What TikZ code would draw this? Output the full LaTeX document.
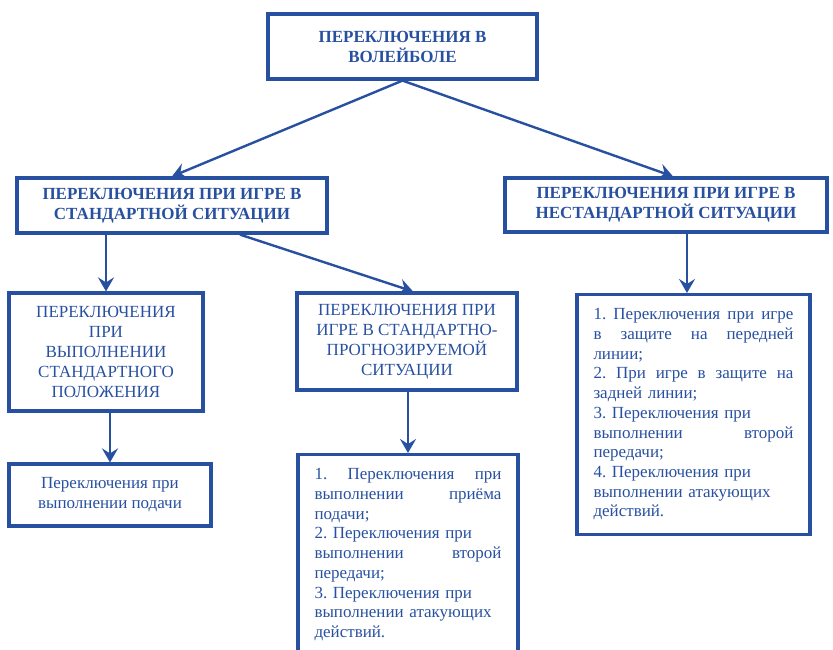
\documentclass[tikz,border=0pt]{standalone}
\usepackage{fontspec}
\setmainfont{Liberation Serif}
\usetikzlibrary{arrows.meta,calc}
\definecolor{vb}{RGB}{40,80,160}
\frenchspacing
\begin{document}
\begin{tikzpicture}[x=1pt,y=-1pt,
  box/.style={draw=vb,line width=3.2pt,text=vb,inner sep=0pt,align=center,font=\fontsize{17}{20}\selectfont},
  hd/.style={box,font=\fontsize{17}{20}\selectfont\bfseries},
  lst/.style={draw=vb,line width=3.2pt,text=vb,align=left,inner xsep=16.5pt,inner ysep=14pt,font=\fontsize{17}{19.7}\selectfont},
  arr/.style={draw=vb,line width=2.4pt,-{Stealth[length=14pt,width=16pt,inset=5pt]}}]
\path[use as bounding box] (0,0) rectangle (833,649);
\clip (0,0) rectangle (833,649);
\node[hd,minimum width=269pt,minimum height=65pt] (top) at (402.5,46.5) {ПЕРЕКЛЮЧЕНИЯ В\\ВОЛЕЙБОЛЕ};
\node[hd,minimum width=310pt,minimum height=55pt] (L) at (172,205.5) {ПЕРЕКЛЮЧЕНИЯ ПРИ ИГРЕ В\\СТАНДАРТНОЙ СИТУАЦИИ};
\node[hd,minimum width=322pt,minimum height=54pt] (R) at (666,205) {ПЕРЕКЛЮЧЕНИЯ ПРИ ИГРЕ В\\НЕСТАНДАРТНОЙ СИТУАЦИИ};
\node[box,minimum width=194pt,minimum height=118pt] (A) at (106,352) {ПЕРЕКЛЮЧЕНИЯ\\ПРИ\\ВЫПОЛНЕНИИ\\СТАНДАРТНОГО\\ПОЛОЖЕНИЯ};
\node[box,minimum width=202pt,minimum height=62pt] (A2) at (110,495) {Переключения при\\выполнении подачи};
\node[box,minimum width=220pt,minimum height=97pt] (B) at (407,341.5) {ПЕРЕКЛЮЧЕНИЯ ПРИ\\ИГРЕ В СТАНДАРТНО-\\ПРОГНОЗИРУЕМОЙ\\СИТУАЦИИ};
\node[lst,text width=187pt,anchor=north] (B2) at (408,453) {1.\hfill Переключения\hfill при\\выполнении\hfill приёма\\подачи;\\2. Переключения при\\выполнении\hfill второй\\передачи;\\3. Переключения при\\выполнении атакующих\\действий.\\\rule{0pt}{10pt}};
\node[lst,text width=200pt,anchor=north] (C) at (693.5,293) {1.\hfill Переключения\hfill при\hfill игре\\в\hfill защите\hfill на\hfill передней\\линии;\\2.\hfill При\hfill игре\hfill в\hfill защите\hfill на\\задней линии;\\3. Переключения при\\выполнении\hfill второй\\передачи;\\4. Переключения при\\выполнении атакующих\\действий.};
\coordinate (ct) at ([xshift=-6.5pt]C.north);
\draw[arr] (top.south) -- (L.north);
\draw[arr] (top.south) -- ([xshift=7pt]R.north);
\draw[arr] (L.south -| A.north) -- (A.north);
\draw[arr] ([xshift=68pt]L.south) -- ([xshift=6pt]B.north);
\draw[arr] (A.south -| A2.north) -- (A2.north);
\draw[arr] (B.south -| B2.north) -- (B2.north);
\draw[arr] (ct |- R.south) -- (ct);
\end{tikzpicture}
\end{document}
